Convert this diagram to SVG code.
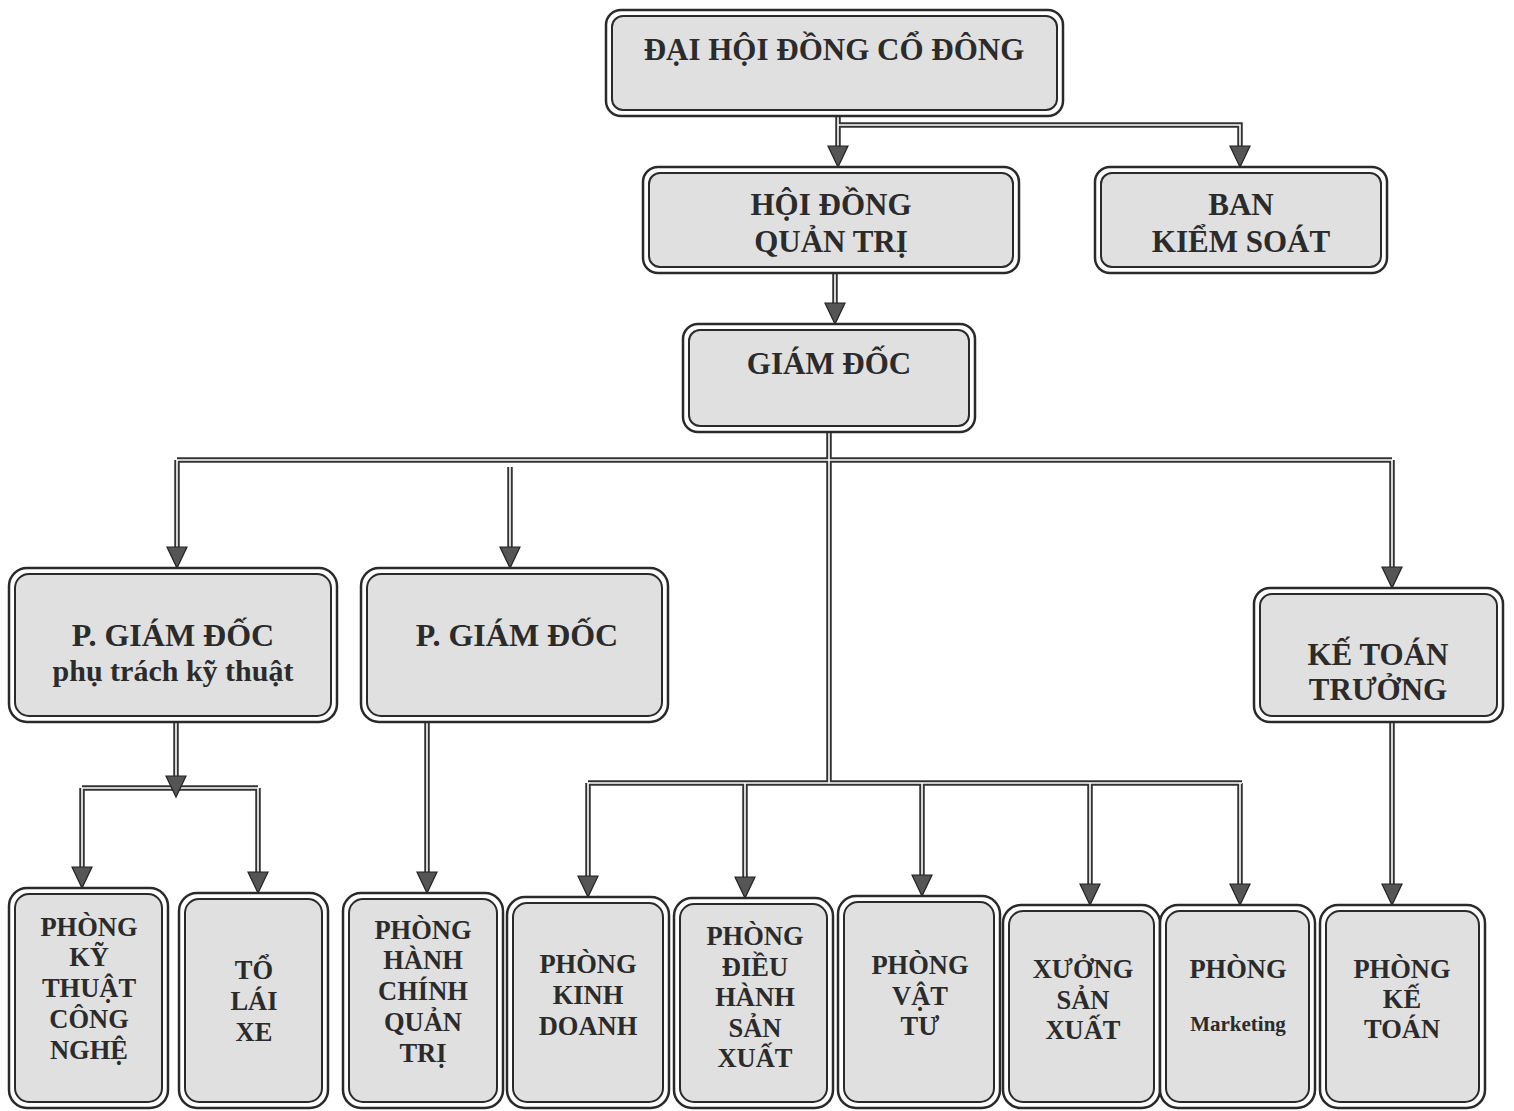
<svg xmlns="http://www.w3.org/2000/svg" xmlns:xlink="http://www.w3.org/1999/xlink" width="1514" height="1111" viewBox="0 0 1514 1111">
<defs>
<style>
.o{fill:#ffffff;stroke:#2a2a2a;stroke-width:2.5}
.i{fill:#e0e0e0;stroke:#2a2a2a;stroke-width:2}
.t{font-family:"Liberation Serif","Times New Roman",serif;font-weight:bold;fill:#2b2b2b;text-anchor:middle}
.big{font-size:31px}
.mid{font-size:31px}
.sm{font-size:26.5px}
.xs{font-size:21px}
.dl{fill:none;stroke:#333;stroke-width:5.5}
.dli{fill:none;stroke:#ffffff;stroke-width:1.6}
.ah{fill:#555;stroke:#222;stroke-width:1.2}
</style>
<polygon id="ah" class="ah" points="-10,-21 10,-21 0,0"/>
</defs>
<rect width="1514" height="1111" fill="#ffffff"/>

<g id="connectors">
<path class="dl" d="M838,116 V150 M838,125 H1240 V150 M835,273 V306 M829,432 V783 M177,460 H1392 M177,460 V550 M510,467 V550 M1392,460 V570 M176,722 V778 M82,788 H258 M82,788 V870 M258,788 V875 M427,722 V875 M588,783 H1242 M588,783 V879 M745,783 V880 M922,783 V878 M1090,783 V887 M1240,783 V887 M1392,722 V887"/>
<path class="dli" d="M838,116 V150 M838,125 H1240 V150 M835,273 V306 M829,432 V783 M177,460 H1392 M177,460 V550 M510,467 V550 M1392,460 V570 M176,722 V778 M82,788 H258 M82,788 V870 M258,788 V875 M427,722 V875 M588,783 H1242 M588,783 V879 M745,783 V880 M922,783 V878 M1090,783 V887 M1240,783 V887 M1392,722 V887"/>
<use xlink:href="#ah" x="838" y="167"/>
<use xlink:href="#ah" x="1240" y="167"/>
<use xlink:href="#ah" x="835" y="324"/>
<use xlink:href="#ah" x="177" y="568"/>
<use xlink:href="#ah" x="510" y="568"/>
<use xlink:href="#ah" x="1392" y="588"/>
<use xlink:href="#ah" x="176" y="797"/>
<use xlink:href="#ah" x="82" y="888"/>
<use xlink:href="#ah" x="258" y="893"/>
<use xlink:href="#ah" x="427" y="893"/>
<use xlink:href="#ah" x="588" y="897"/>
<use xlink:href="#ah" x="745" y="898"/>
<use xlink:href="#ah" x="922" y="896"/>
<use xlink:href="#ah" x="1090" y="905"/>
<use xlink:href="#ah" x="1240" y="905"/>
<use xlink:href="#ah" x="1392" y="905"/>
</g>

<g id="n-dhdcd">
<rect class="o" x="606" y="10" width="457" height="106" rx="15"/>
<rect class="i" x="612" y="16" width="445" height="94" rx="11"/>
<text class="t big" x="834" y="60">ĐẠI HỘI ĐỒNG CỔ ĐÔNG</text>
</g>

<g id="n-hdqt">
<rect class="o" x="643" y="167" width="376" height="106" rx="15"/>
<rect class="i" x="649" y="173" width="364" height="94" rx="11"/>
<text class="t mid" x="831" y="215">HỘI ĐỒNG</text>
<text class="t mid" x="831" y="252">QUẢN TRỊ</text>
</g>

<g id="n-bks">
<rect class="o" x="1095" y="167" width="292" height="106" rx="15"/>
<rect class="i" x="1101" y="173" width="280" height="94" rx="11"/>
<text class="t mid" x="1241" y="215">BAN</text>
<text class="t mid" x="1241" y="252">KIỂM SOÁT</text>
</g>

<g id="n-gd">
<rect class="o" x="683" y="324" width="292" height="108" rx="15"/>
<rect class="i" x="689" y="330" width="280" height="96" rx="11"/>
<text class="t mid" x="829" y="374">GIÁM ĐỐC</text>
</g>

<g id="n-pgdkt">
<rect class="o" x="9" y="568" width="328" height="154" rx="18"/>
<rect class="i" x="15" y="574" width="316" height="142" rx="14"/>
<text class="t mid" x="173" y="646" style="font-size:32px">P. GIÁM ĐỐC</text>
<text class="t mid" x="173" y="681" style="font-size:30px">phụ trách kỹ thuật</text>
</g>

<g id="n-pgd">
<rect class="o" x="361" y="568" width="307" height="154" rx="18"/>
<rect class="i" x="367" y="574" width="295" height="142" rx="14"/>
<text class="t mid" x="517" y="646" style="font-size:32px">P. GIÁM ĐỐC</text>
</g>

<g id="n-ktt">
<rect class="o" x="1254" y="588" width="249" height="134" rx="16"/>
<rect class="i" x="1260" y="594" width="237" height="122" rx="12"/>
<text class="t mid" x="1378" y="665">KẾ TOÁN</text>
<text class="t mid" x="1378" y="700">TRƯỞNG</text>
</g>

<g id="n-pktcn">
<rect class="o" x="9" y="888" width="159" height="220" rx="18"/>
<rect class="i" x="15" y="894" width="147" height="208" rx="14"/>
<text class="t sm" x="89" y="936">PHÒNG</text>
<text class="t sm" x="89" y="966">KỸ</text>
<text class="t sm" x="89" y="997">THUẬT</text>
<text class="t sm" x="89" y="1028">CÔNG</text>
<text class="t sm" x="89" y="1059">NGHỆ</text>
</g>

<g id="n-tlx">
<rect class="o" x="179" y="893" width="149" height="215" rx="18"/>
<rect class="i" x="185" y="899" width="137" height="203" rx="14"/>
<text class="t sm" x="254" y="979">TỔ</text>
<text class="t sm" x="254" y="1010">LÁI</text>
<text class="t sm" x="254" y="1041">XE</text>
</g>

<g id="n-phcqt">
<rect class="o" x="343" y="893" width="160" height="215" rx="18"/>
<rect class="i" x="349" y="899" width="148" height="203" rx="14"/>
<text class="t sm" x="423" y="939">PHÒNG</text>
<text class="t sm" x="423" y="969">HÀNH</text>
<text class="t sm" x="423" y="1000">CHÍNH</text>
<text class="t sm" x="423" y="1031">QUẢN</text>
<text class="t sm" x="423" y="1062">TRỊ</text>
</g>

<g id="n-pkd">
<rect class="o" x="507" y="897" width="162" height="211" rx="18"/>
<rect class="i" x="513" y="903" width="150" height="199" rx="14"/>
<text class="t sm" x="588" y="973">PHÒNG</text>
<text class="t sm" x="588" y="1004">KINH</text>
<text class="t sm" x="588" y="1035">DOANH</text>
</g>

<g id="n-pdhsx">
<rect class="o" x="674" y="898" width="159" height="210" rx="18"/>
<rect class="i" x="680" y="904" width="147" height="198" rx="14"/>
<text class="t sm" x="755" y="945">PHÒNG</text>
<text class="t sm" x="755" y="976">ĐIỀU</text>
<text class="t sm" x="755" y="1006">HÀNH</text>
<text class="t sm" x="755" y="1037">SẢN</text>
<text class="t sm" x="755" y="1067">XUẤT</text>
</g>

<g id="n-pvt">
<rect class="o" x="838" y="896" width="162" height="212" rx="18"/>
<rect class="i" x="844" y="902" width="150" height="200" rx="14"/>
<text class="t sm" x="920" y="974">PHÒNG</text>
<text class="t sm" x="920" y="1005">VẬT</text>
<text class="t sm" x="920" y="1035">TƯ</text>
</g>

<g id="n-xsx">
<rect class="o" x="1003" y="905" width="157" height="203" rx="18"/>
<rect class="i" x="1009" y="911" width="145" height="191" rx="14"/>
<text class="t sm" x="1083" y="978">XƯỞNG</text>
<text class="t sm" x="1083" y="1009">SẢN</text>
<text class="t sm" x="1083" y="1039">XUẤT</text>
</g>

<g id="n-pmkt">
<rect class="o" x="1160" y="905" width="155" height="203" rx="18"/>
<rect class="i" x="1166" y="911" width="143" height="191" rx="14"/>
<text class="t sm" x="1238" y="978">PHÒNG</text>
<text class="t xs" x="1238" y="1031">Marketing</text>
</g>

<g id="n-pkt">
<rect class="o" x="1320" y="905" width="165" height="203" rx="18"/>
<rect class="i" x="1326" y="911" width="153" height="191" rx="14"/>
<text class="t sm" x="1402" y="978">PHÒNG</text>
<text class="t sm" x="1402" y="1008">KẾ</text>
<text class="t sm" x="1402" y="1038">TOÁN</text>
</g>
</svg>
